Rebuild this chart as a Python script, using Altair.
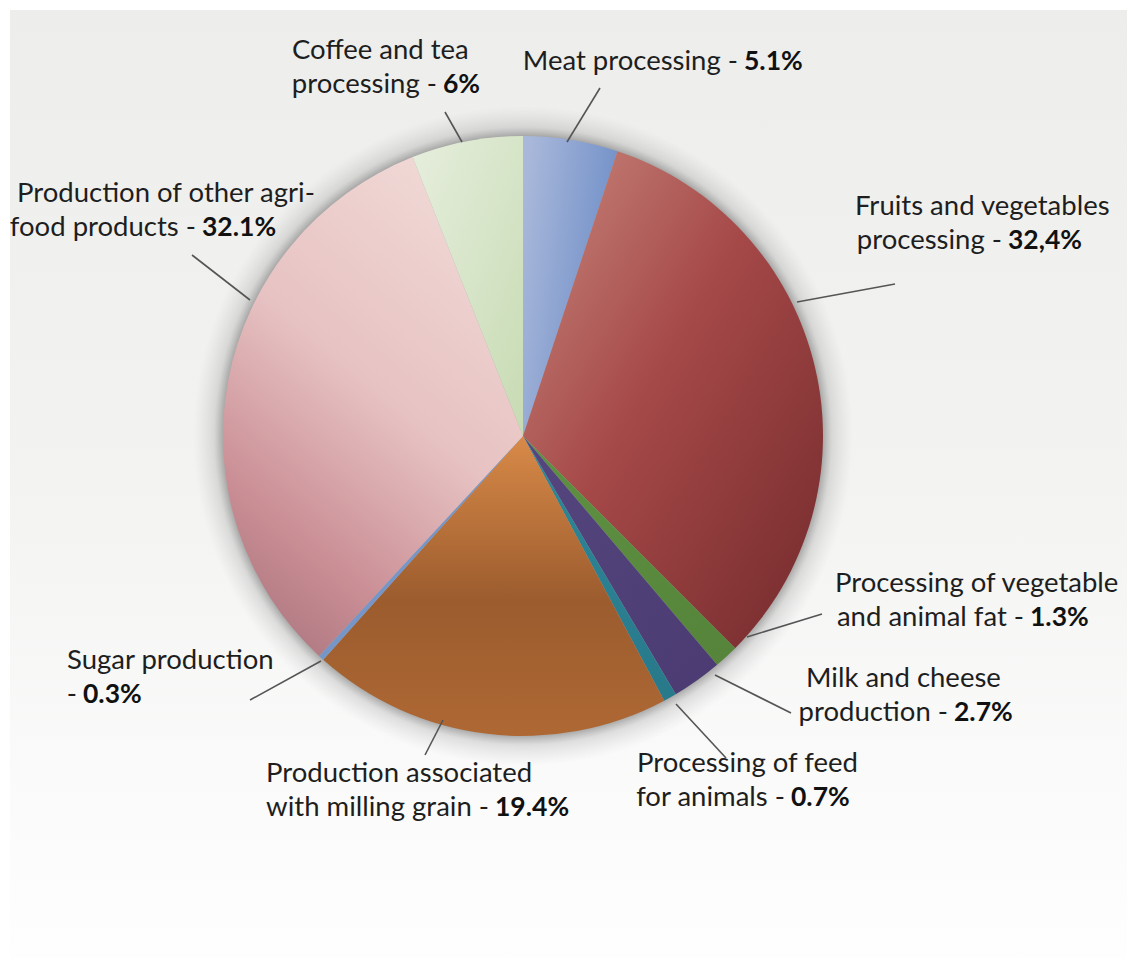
import altair as alt
import pandas as pd

# ---------------- data ----------------
categories = [
    "Meat processing",
    "Fruits and vegetables processing",
    "Processing of vegetable and animal fat",
    "Milk and cheese production",
    "Processing of feed for animals",
    "Production associated with milling grain",
    "Sugar production",
    "Production of other agri-food products",
    "Coffee and tea processing",
]
values = [5.1, 32.4, 1.3, 2.7, 0.7, 19.4, 0.3, 32.1, 6.0]
pct_labels = ["5.1%", "32,4%", "1.3%", "2.7%", "0.7%", "19.4%", "0.3%", "32.1%", "6%"]

# label text lines (normal part) per category
label_line1 = ["", "Fruits and vegetables", "Processing of vegetable", "Milk and cheese",
               "Processing of feed", "Production associated", "Sugar production",
               "Production of other agri-", "Coffee and tea"]
label_line2 = ["Meat processing -", "processing -", "and animal fat -", "production -",
               "for animals -", "with milling grain -", "-", "food products -", "processing -"]

# ---------------- layout / style (annotation placement) ----------------
CX, CY, R = 523, 436, 300
FONT = "Lato"
FS = 27.5
LINE_GAP = 34

lab_x = [523, 855, 835, 806, 637, 266, 67, 17, 292]
lab_y2 = [62, 241, 618, 713, 798, 808, 695, 228, 85]
lab_j = [744, 1008, 1030, 954, 791, 495, 83, 202, 443]

leader = [  # x, y, x2, y2
    (600, 88, 567, 142),
    (895, 284, 797, 302),
    (822, 614, 747, 637),
    (791, 713, 715, 675),
    (726, 758, 676, 704),
    (443, 720, 425, 755),
    (321, 661, 250, 700),
    (192, 255, 250, 300),
    (445, 112, 462, 142),
]

def lg(stops, x1=0, y1=0, x2=1, y2=1):
    return alt.LinearGradient(
        gradient="linear",
        stops=[alt.GradientStop(offset=o, color=c) for o, c in stops],
        x1=x1, y1=y1, x2=x2, y2=y2,
    )

fills = [
    lg([(0, "#a9b8da"), (1, "#6a8bc6")], 0, 0.2, 1, 0.6),
    lg([(0, "#c9897d"), (0.45, "#a54848"), (1, "#732a2c")], 0, 0, 1, 1),
    lg([(0, "#5f9142"), (1, "#55843a")]),
    lg([(0, "#56467f"), (1, "#4b3b72")]),
    lg([(0, "#2d8798"), (1, "#28798a")]),
    lg([(0, "#d88a48"), (0.55, "#9c5c2e"), (1, "#ae6834")], 0.5, 0, 0.5, 1),
    lg([(0, "#7c9ccd"), (1, "#7090c2")]),
    lg([(0, "#f0d9d6"), (0.45, "#e7c2c2"), (0.8, "#c98d94"), (1, "#ad7780")], 0.7, 0, 0.2, 1),
    lg([(0, "#e6eedd"), (1, "#c7dbb3")], 0, 0, 1, 1),
]

df = pd.DataFrame({"category": categories, "value": values, "order": list(range(len(values)))})

lab_df = pd.DataFrame({
    "category": categories,
    "line1": label_line1,
    "line2": label_line2,
    "pct": pct_labels,
    "x": lab_x,
    "y1": [y - LINE_GAP for y in lab_y2],
    "y2": lab_y2,
    "jx": lab_j,
    "jx_pre": [j - 6 for j in lab_j],
})

lead_df = pd.DataFrame(leader, columns=["lx", "ly", "lx2", "ly2"])

one = pd.DataFrame({"a": [0]})

# ---------------- background ----------------
bg = alt.Chart(one).mark_rect(
    fill=lg([(0, "#edeeec"), (0.5, "#f3f4f2"), (1, "#fefefe")], 0, 0, 0, 1)
).encode(x=alt.value(10), x2=alt.value(1127), y=alt.value(10), y2=alt.value(958))

# soft halo around the pie
HALO = 30
halo = alt.Chart(one).mark_arc(
    theta=0, theta2=6.2832, outerRadius=R + HALO,
    fill=alt.RadialGradient(
        gradient="radial",
        stops=[alt.GradientStop(offset=0, color="rgba(80,80,80,0.45)"),
               alt.GradientStop(offset=0.3, color="rgba(110,110,110,0.2)"),
               alt.GradientStop(offset=1, color="rgba(150,150,150,0)")],
        x1=0.5, y1=0.5, r1=0.5 * R / (R + HALO), x2=0.5, y2=0.5, r2=0.5,
    ),
).encode(x=alt.value(CX), y=alt.value(CY))

# ---------------- slices ----------------
base = alt.Chart(df).transform_window(
    end="sum(value)", sort=[alt.SortField("order")], frame=[None, 0]
).transform_calculate(start="datum.end - datum.value")

theta_scale = alt.Scale(domain=[0, 100], range=[0, 6.283185307179586])

slices = []
for cat, fill in zip(categories, fills):
    slices.append(
        base.transform_filter(alt.datum.category == cat)
        .mark_arc(outerRadius=R, fill=fill, stroke=None)
        .encode(
            theta=alt.Theta("start:Q", scale=theta_scale, stack=None),
            theta2="end:Q",
            x=alt.value(CX),
            y=alt.value(CY),
            tooltip=["category:N", "value:Q"],
        )
    )

# ---------------- leader lines ----------------
lines = alt.Chart(lead_df).mark_rule(color="#555555", strokeWidth=1.6).encode(
    x=alt.X("lx:Q", scale=None),
    y=alt.Y("ly:Q", scale=None),
    x2="lx2:Q",
    y2="ly2:Q",
)

# ---------------- labels ----------------
lab = alt.Chart(lab_df)
t1 = lab.mark_text(font=FONT, fontSize=FS, align="left", baseline="middle", color="#1e1e1e").encode(
    x=alt.X("x:Q", scale=None), y=alt.Y("y1:Q", scale=None), text="line1:N"
)
t2 = lab.mark_text(font=FONT, fontSize=FS, align="right", baseline="middle", color="#1e1e1e").encode(
    x=alt.X("jx_pre:Q", scale=None), y=alt.Y("y2:Q", scale=None), text="line2:N"
)
t3 = lab.mark_text(font=FONT, fontSize=FS - 1, fontWeight="bold", align="left", baseline="middle",
                   color="#111111").encode(
    x=alt.X("jx:Q", scale=None), y=alt.Y("y2:Q", scale=None), text="pct:N"
)

chart = alt.layer(bg, halo, *slices, lines, t1, t2, t3).properties(
    width=1127, height=958, autosize=alt.AutoSizeParams(type="none"), padding=0,
    background="#ffffff",
).configure_view(stroke=None)

chart.save("out.html", embed_options={"renderer": "svg", "actions": False})
